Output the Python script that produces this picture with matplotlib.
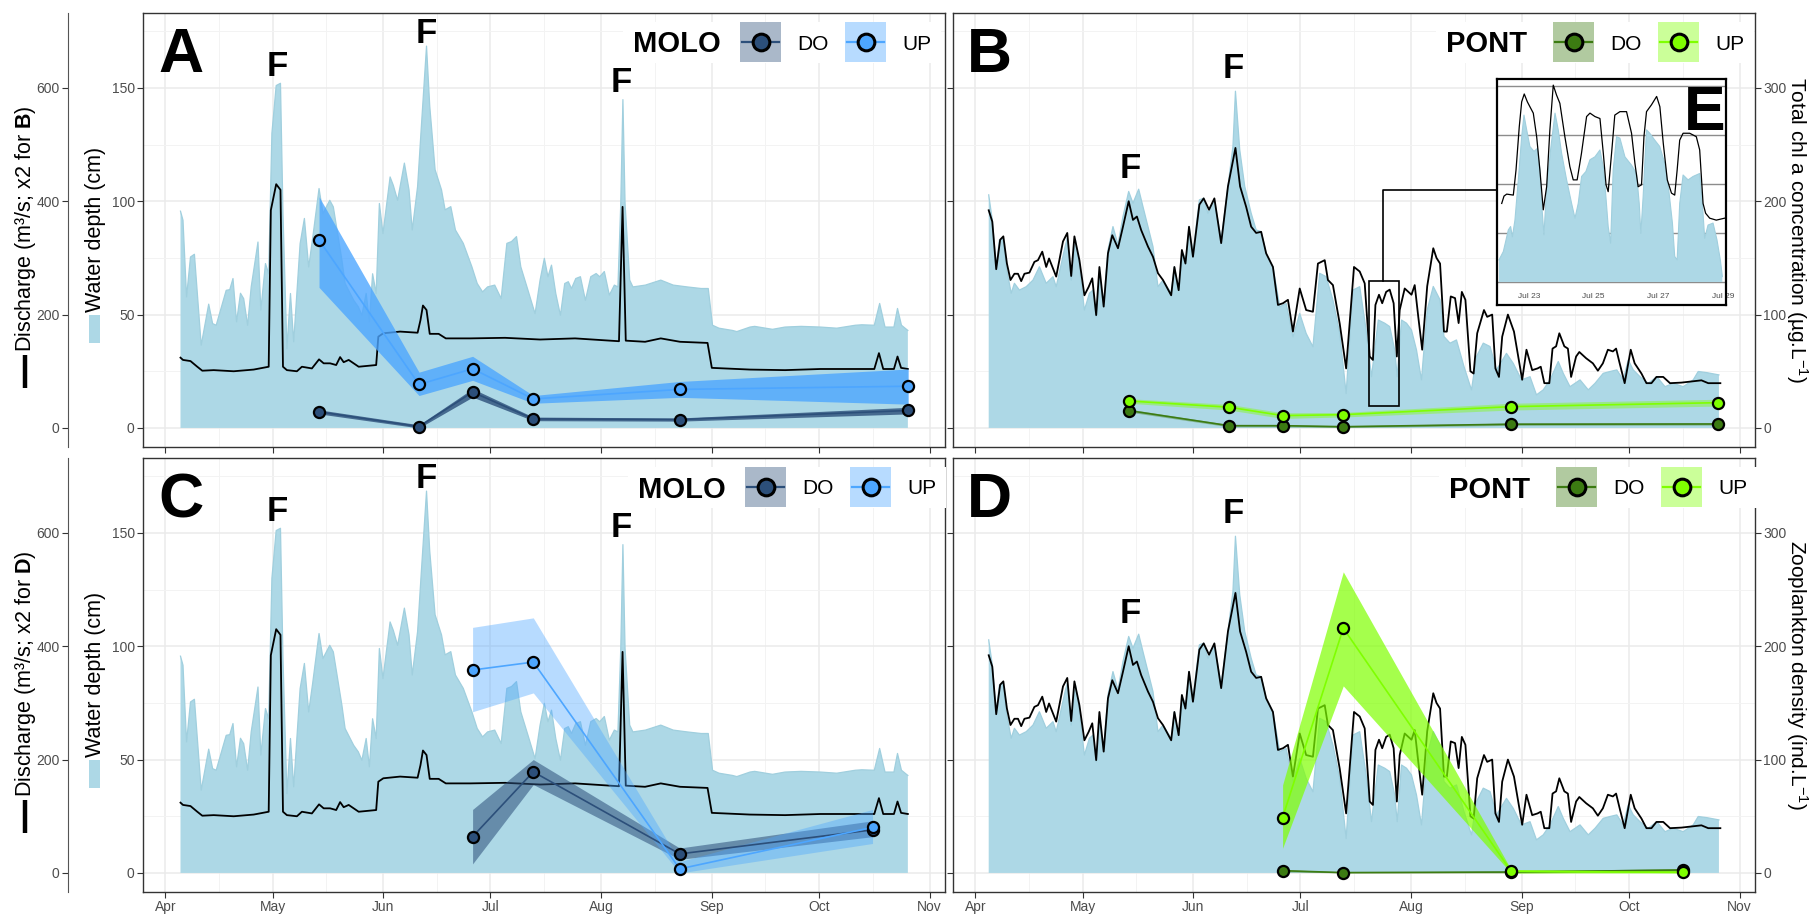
import numpy as np
import matplotlib
matplotlib.use("Agg")
import matplotlib.pyplot as plt
import matplotlib.dates as mdates
from matplotlib.patches import Rectangle
from matplotlib.ticker import MultipleLocator

plt.rcParams['font.family'] = ['Liberation Sans', 'DejaVu Sans']
plt.rcParams['mathtext.fontset'] = 'custom'
plt.rcParams['mathtext.rm'] = 'Liberation Sans'
plt.rcParams['mathtext.it'] = 'Liberation Sans:italic'
plt.rcParams['mathtext.bf'] = 'Liberation Sans:bold'

# ---------------- data (days since 1 April) ----------------
molo_depth_day = [4.2, 4.9, 5.9, 7.0, 8.1, 10.0, 12.1, 13.2, 14.2, 17.0, 18.0, 18.9, 19.9, 21.0, 21.9, 23.0,
                  24.0, 25.9, 26.7, 28.0, 28.9, 29.8, 31.0, 32.2, 32.9, 34.0, 35.0, 35.9, 37.7, 38.9, 40.1,
                  41.2, 43.0, 44.1, 46.0, 47.0, 49.4, 50.3, 52.7, 54.0, 55.0, 56.2, 57.1, 58.0, 59.0, 59.9,
                  60.9, 62.9, 63.8, 65.0, 66.9, 68.2, 69.1, 70.6, 71.6, 73.1, 74.0, 75.5, 77.3, 78.3, 79.9,
                  81.2, 83.4, 85.8, 87.3, 88.8, 90.2, 92.2, 94.0, 95.6, 96.9, 98.3, 99.5, 101.5, 103.5,
                  104.9, 106.1, 107.1, 108.1, 109.3, 110.6, 111.8, 112.8, 113.7, 114.9, 116.2, 117.6, 119.1,
                  120.6, 121.6, 122.9, 124.3, 125.7, 126.7, 127.5, 128.1, 128.7, 130.0, 130.9, 134.4, 138.7,
                  142.2, 146.1, 150.0, 152.0, 153.2, 155.0, 158.8, 160.0, 163.7, 165.0, 170.0, 173.5, 178.0,
                  183.4, 188.0, 193.2, 195.0, 198.5, 200.0, 201.5, 204.0, 205.0, 206.1, 207.9]
molo_depth = [95.6, 91.6, 57.8, 75.4, 76.6, 36.5, 54.6, 46.0, 45.3, 60.7, 61.0, 65.9, 46.8, 59.4, 57.0, 45.3,
              62.2, 82.0, 52.0, 72.5, 68.0, 130.0, 151.0, 152.0, 94.6, 35.0, 59.3, 38.0, 81.3, 92.4, 71.0,
              83.5, 105.6, 94.6, 100.4, 97.5, 74.0, 63.7, 56.3, 53.4, 49.7, 59.3, 46.8, 68.0, 59.3, 99.0,
              85.7, 110.7, 107.0, 100.4, 116.8, 105.0, 87.3, 106.5, 131.6, 168.4, 142.0, 113.9, 105.0, 96.2,
              97.6, 87.3, 81.4, 71.1, 63.7, 60.0, 62.2, 63.0, 57.1, 81.4, 82.2, 84.4, 71.1, 60.8, 50.4,
              65.2, 74.8, 66.7, 71.8, 59.3, 49.7, 63.7, 64.5, 61.5, 65.9, 66.7, 56.3, 66.7, 68.1, 66.7,
              69.0, 58.6, 63.0, 62.2, 99.0, 144.8, 99.0, 65.2, 62.2, 63.0, 65.2, 63.0, 62.2, 61.5, 61.5,
              45.3, 44.0, 43.0, 42.5, 44.5, 44.8, 43.5, 44.5, 44.8, 44.5, 44.0, 45.3, 45.5, 45.3, 54.9,
              44.5, 44.5, 52.7, 45.3, 43.0]

molo_q_day = [4.2, 4.9, 7.0, 8.9, 10.3, 13.5, 19.1, 24.7, 28.9, 29.5, 31.0, 32.2, 32.9, 34.0, 36.8, 38.2,
              41.0, 43.0, 44.3, 46.1, 47.8, 48.9, 49.9, 51.3, 54.1, 59.0, 59.6, 61.0, 65.7, 70.6, 71.4,
              72.1, 73.1, 74.0, 76.5, 78.5, 85.3, 95.1, 104.9, 114.7, 124.5, 127.0, 128.0, 128.9, 134.3,
              138.7, 144.1, 151.8, 153.0, 163.7, 173.5, 183.4, 193.2, 198.5, 199.8, 201.0, 204.0, 205.0,
              206.0, 207.9]
molo_q = [124, 120, 118, 108, 101, 102, 100, 103, 108, 384, 430, 420, 108, 102, 100, 108,
          105, 121, 114, 114, 111, 125, 116, 120, 108, 111, 161, 167, 170, 168, 190,
          216, 208, 166, 166, 158, 158, 159, 156, 158, 154, 153, 390, 154, 152,
          158, 152, 150, 106, 103, 102, 104, 104, 104, 132, 104, 104, 126,
          106, 104]

pont_depth_day = [3.7, 4.7, 5.8, 6.7, 7.7, 8.6, 10.0, 10.9, 12.3, 14.2, 16.1, 17.9, 19.8, 21.7, 22.6, 25.1,
                  25.7, 26.8, 28.0, 29.1, 30.5, 31.9, 32.9, 33.8, 34.7, 35.9, 37.1, 38.5, 39.9, 41.3, 42.9,
                  44.1, 45.7, 46.9, 48.3, 49.7, 51.1, 52.5, 54.8, 55.7, 56.9, 58.1, 59.0, 59.8, 60.9, 62.7,
                  63.9, 65.1, 66.9, 68.8, 70.7, 72.1, 72.8, 74.0, 75.4, 77.2, 78.6, 80.0, 81.4, 83.3, 85.2,
                  87.0, 88.9, 90.8, 92.6, 94.5, 96.4, 98.2, 100.1, 102.0, 103.8, 105.7, 107.6, 109.4, 110.9,
                  112.8, 114.6, 116.0, 117.4, 118.1, 119.3, 120.7, 122.1, 123.5, 124.9, 126.5, 128.2, 130.1,
                  131.2, 132.9, 134.7, 136.8, 138.9, 140.3, 142.2, 144.1, 145.9, 148.7, 150.6, 152.9, 155.3,
                  157.1, 159.0, 160.9, 163.2, 164.6, 166.5, 169.3, 171.6, 173.5, 175.8, 177.7, 179.6, 181.4,
                  182.8, 184.2, 186.1, 188.4, 190.8, 193.1, 195.4, 198.2, 201.0, 202.4, 204.8, 208.2]
pont_depth = [102.8, 91.8, 71.1, 82.9, 83.7, 71.1, 59.4, 63.8, 60.8, 62.3, 65.2, 71.1, 63.8, 66.7, 62.3, 80.0,
              83.7, 65.2, 82.9, 71.1, 52.0, 59.4, 60.8, 49.0, 66.7, 54.9, 78.5, 88.8, 80.8, 93.2, 104.3,
              99.1, 105.3, 97.6, 88.8, 80.0, 62.3, 65.2, 59.4, 71.1, 60.8, 77.0, 74.1, 88.8, 77.0, 100.6,
              101.3, 94.7, 100.6, 82.9, 106.5, 124.2, 148.5, 122.7, 106.5, 94.7, 87.3, 86.6, 77.0, 71.1, 53.5,
              54.9, 40.2, 50.5, 41.7, 35.8, 68.2, 66.7, 56.4, 41.7, 15.2, 60.8, 62.3, 43.2, 22.6,
              47.6, 46.2, 44.7, 34.4, 22.6, 47.6, 46.2, 43.2, 34.4, 21.2, 52.0, 62.4, 56.5,
              40.3, 37.4, 38.8, 27.1, 16.8, 31.5, 37.4, 35.9, 25.6, 32.9, 28.5, 21.2, 22.6,
              14.6, 16.8, 21.2, 29.3, 24.1, 18.2, 21.2, 16.8, 19.7, 24.1, 24.9, 25.6, 21.2,
              30.0, 25.6, 22.6, 19.7, 22.6, 18.2, 19.7, 18.2, 21.2, 24.9, 24.4, 23.4]

pont_q_day = [3.7, 4.7, 5.8, 6.9, 7.8, 8.8, 9.8, 10.9, 11.9, 12.8, 13.7, 15.1, 16.5, 17.5, 18.7, 19.8, 20.6,
              22.6, 24.5, 25.7, 26.8, 27.7, 29.1, 30.5, 31.7, 32.7, 33.8, 34.7, 35.9, 37.1, 38.3, 39.9,
              41.3, 42.9, 44.1, 45.2, 46.4, 48.3, 49.7, 51.1, 52.5, 54.8, 55.7, 56.9, 57.8, 58.8, 59.8,
              60.9, 62.7, 63.9, 65.4, 66.9, 68.8, 70.7, 72.8, 74.1, 75.8, 77.2, 78.6, 80.0, 81.4, 83.3,
              84.7, 86.1, 87.5, 88.9, 90.8, 92.6, 94.5, 95.9, 97.8, 98.7, 100.1, 102.0, 103.8, 106.0,
              107.6, 109.0, 110.4, 111.3, 112.0, 113.0, 113.9, 115.0, 116.0, 117.1, 118.0, 118.8, 120.2,
              122.1, 123.0, 124.0, 125.1, 126.5, 128.2, 129.1, 130.1, 131.2, 132.0, 133.1, 134.3, 135.3,
              136.2, 137.2, 138.6, 139.5, 140.5, 142.4, 143.3, 144.7, 145.6, 146.6, 147.5, 149.1, 150.8,
              153.1, 154.3, 155.9, 157.4, 158.3, 159.3, 160.7, 161.6, 162.6, 163.5, 164.9, 165.9, 166.8,
              168.2, 169.1, 171.0, 172.9, 174.3, 175.7, 177.1, 178.5, 179.4, 180.4, 181.8, 183.5, 184.6,
              186.5, 187.9, 189.3, 190.7, 192.6, 194.5, 197.7, 200.5, 203.3, 205.2, 208.6]
pont_q = [384, 364, 280, 332, 338, 290, 261, 272, 272, 259, 272, 274, 293, 296, 311, 284, 299,
          267, 329, 344, 268, 338, 296, 234, 249, 264, 199, 284, 214, 308, 340, 317,
          355, 400, 367, 373, 349, 320, 302, 273, 261, 234, 284, 243, 314, 290, 355,
          302, 394, 405, 385, 405, 326, 426, 494, 426, 390, 355, 344, 346, 308, 284,
          217, 220, 226, 170, 246, 208, 205, 290, 296, 261, 252, 184, 105, 284,
          276, 255, 126, 120, 217, 235, 220, 240, 244, 220, 126, 208, 246,
          235, 252, 196, 138, 250, 317, 300, 290, 170, 170, 232, 229, 185,
          240, 226, 100, 96, 167, 208, 196, 200, 105, 90, 161, 200, 170,
          85, 138, 102, 105, 108, 79, 79, 140, 144, 167, 144, 140, 90,
          126, 134, 123, 114, 101, 114, 138, 135, 140, 114, 79, 138, 114,
          96, 79, 79, 90, 90, 79, 80, 82, 84, 79, 79]

# inset E: hours since 22 July
inset_depth_hr = [1.8, 5.0, 8.7, 10.4, 11.7, 13.6, 16.1, 18.6, 20.3, 22.3, 24.7, 27.7, 30.2, 32.1, 33.4, 35.1,
                  37.1, 40.0, 43.3, 45.7, 48.2, 51.9, 55.6, 58.1, 60.5, 63.0, 66.2, 69.2, 72.9, 76.6, 79.5,
                  82.7, 84.5, 86.4, 88.9, 91.4, 95.1, 100.0, 103.7, 105.7, 106.9, 108.6, 111.1, 113.5, 117.2,
                  120.9, 124.6, 127.6, 130.3, 132.0, 133.8, 135.7, 138.2, 141.9, 145.6, 150.5, 152.5, 154.2,
                  156.7, 160.4, 163.3, 165.8, 167.3]
inset_depth = [0.45, 0.62, 1.06, 1.13, 0.92, 1.26, 2.08, 2.96, 3.40, 3.10, 2.76, 2.66, 2.72, 2.28, 1.60, 0.96,
               1.94, 2.69, 3.44, 3.10, 2.62, 2.08, 1.60, 1.30, 1.60, 2.15, 2.25, 2.49, 2.55, 2.69, 2.28,
               1.13, 0.79, 2.28, 2.96, 2.93, 2.55, 2.38, 2.21, 1.60, 0.99, 1.74, 3.10, 3.03, 2.89,
               2.76, 2.42, 1.87, 1.20, 0.52, 0.45, 1.60, 2.18, 2.08, 2.15, 2.21, 1.60, 0.89,
               1.16, 1.20, 0.86, 0.45, 0.11]
inset_q_hr = [3.8, 5.5, 7.5, 12.4, 14.4, 16.8, 18.6, 20.5, 22.8, 24.7, 27.2, 29.7, 32.1, 34.6, 37.1, 39.5,
              42.0, 44.4, 46.9, 50.6, 54.3, 56.8, 59.7, 62.9, 66.7, 69.2, 72.9, 76.6, 79.1, 81.1, 82.7,
              85.2, 87.6, 91.4, 96.3, 100.0, 102.5, 104.9, 107.4, 109.2, 111.1, 114.8, 118.6, 121.0, 123.5,
              126.5, 129.6, 132.0, 133.8, 135.7, 138.2, 143.1, 148.0, 150.5, 153.0, 154.9, 157.9, 162.8,
              169.0]
inset_q = [1.60, 1.75, 1.79, 1.77, 2.28, 3.16, 3.67, 3.83, 3.67, 3.57, 3.44, 2.96, 2.28, 1.47, 1.94, 3.10,
           4.01, 3.81, 3.64, 2.96, 2.35, 2.08, 2.08, 2.62, 3.37, 3.44, 3.37, 3.33, 2.62, 1.98, 1.84,
           2.62, 3.40, 3.47, 3.47, 3.03, 2.42, 1.94, 1.98, 2.96, 3.47, 3.61, 3.78, 3.57, 2.83,
           2.08, 1.81, 1.77, 2.28, 2.89, 3.03, 3.03, 2.96, 2.69, 1.60, 1.40, 1.30, 1.26,
           1.30]

# samples (A, C: plotted on water-depth scale; B: chl a; D: zooplankton)
a_day = [43, 71, 86, 103, 144, 208]
a_do = [7.1, 0.6, 15.8, 4.0, 3.7, 7.7]
a_do_lo = [6.2, 0.0, 13.6, 3.2, 3.0, 6.2]
a_do_hi = [8.0, 1.4, 17.3, 4.8, 4.4, 9.1]
a_up = [82.9, 19.2, 26.1, 12.8, 17.0, 18.4]
a_up_lo = [62.0, 14.3, 21.0, 10.9, 13.5, 10.5]
a_up_hi = [102.0, 24.6, 31.6, 14.3, 20.5, 26.0]

c_day = [86, 103, 144, 198]
c_do = [16.0, 44.6, 8.4, 19.0]
c_do_lo = [4.0, 39.0, 6.0, 16.0]
c_do_hi = [28.0, 50.0, 11.0, 23.0]
c_up = [89.5, 93.0, 1.8, 20.1]
c_up_lo = [71.1, 79.4, 0.0, 13.0]
c_up_hi = [108.3, 112.5, 5.0, 28.0]

b_day = [43, 71, 86, 103, 150, 208]
b_do = [15.3, 2.0, 2.0, 1.1, 3.3, 3.5]
b_do_lo = [14.0, 1.0, 1.0, 0.3, 2.3, 2.5]
b_do_hi = [16.6, 3.0, 3.0, 1.9, 4.3, 4.5]
b_up = [23.8, 18.3, 10.9, 11.7, 18.8, 22.3]
b_up_lo = [21.8, 15.8, 8.4, 9.7, 15.8, 19.3]
b_up_hi = [25.8, 20.8, 13.4, 13.7, 21.8, 25.3]

d_day = [86, 103, 150, 198]
d_do = [2.0, 0.3, 0.8, 2.6]
d_do_lo = [1.0, 0.0, 0.0, 1.2]
d_do_hi = [3.0, 1.0, 1.6, 4.0]
d_up = [48.8, 215.9, 1.5, 0.5]
d_up_lo = [21.8, 165.0, 0.0, 0.0]
d_up_hi = [77.6, 265.6, 3.0, 2.0]

Q_SCALE = 4      # discharge axis = 4 x water depth axis
S_SCALE = 2      # right axis = 2 x water depth axis

START = np.datetime64('2019-04-01T00:00')
INSET_START = np.datetime64('2019-07-22T00:00')


def dates(vals, origin=START, minutes=1440):
    return origin + np.round(np.asarray(vals, float) * minutes).astype('timedelta64[m]')


def dnum(day):
    return mdates.date2num(dates([day]))[0]


W, H = 1812, 916
fig = plt.figure(figsize=(W / 100, H / 100), dpi=100)


def frac(l, t, r, b):
    return [l / W, 1 - b / H, (r - l) / W, (b - t) / H]


GRAY = '#4D4D4D'
DARK = '#333333'
FILL = '#ADD8E6'
MOLO_DO, MOLO_UP = '#2C4F7A', '#4DA6FF'
PONT_DO, PONT_UP = '#3C7B12', '#7FFF00'


def panel(rect, depth_day, depth, q_day, q, xlabels, leftlabels):
    ax = fig.add_axes(rect)
    d = dates(depth_day)
    ax.fill_between(d, 0, depth, facecolor=FILL, lw=0, zorder=2)
    ax.plot(d, depth, color='#A0CFDE', lw=0.9, zorder=2)
    ax.plot(dates(q_day), np.asarray(q) / Q_SCALE, color='black', lw=1.3, zorder=3)
    ax.set_xlim(dates([-6.3, 218.3]))
    ax.set_ylim(-8.4, 183)
    ax.xaxis.set_major_locator(mdates.MonthLocator())
    ax.xaxis.set_minor_locator(mdates.MonthLocator(bymonthday=16))
    ax.xaxis.set_major_formatter(mdates.DateFormatter('%b'))
    ax.yaxis.set_major_locator(MultipleLocator(50))
    ax.yaxis.set_minor_locator(MultipleLocator(25))
    ax.grid(True, which='minor', color='#F3F3F3', lw=0.7)
    ax.grid(True, which='major', color='#EBEBEB', lw=1.1)
    ax.set_axisbelow(True)
    ax.tick_params(which='major', length=4, width=0.8, color=DARK, labelsize=10,
                   labelcolor=GRAY, pad=2)
    ax.tick_params(which='minor', length=0)
    ax.tick_params(axis='x', labelbottom=xlabels)
    ax.tick_params(axis='y', labelleft=leftlabels)
    for s in ax.spines.values():
        s.set_color(DARK)
        s.set_linewidth(1.0)
    return ax


def samples(ax, day, val, lo, hi, color, alpha, scale=1.0):
    d = dates(day)
    ax.fill_between(d, np.asarray(lo) / scale, np.asarray(hi) / scale, color=color,
                    alpha=alpha, lw=0, zorder=4)
    ax.plot(d, np.asarray(val) / scale, color=color, lw=1.2, zorder=5)
    ax.plot(d, np.asarray(val) / scale, 'o', ms=8, mfc=color, mec='black', mew=1.6, zorder=6)


def discharge_axis(ax):
    axq = ax.twinx()
    axq.set_ylim(-8.4 * Q_SCALE, 183 * Q_SCALE)
    axq.yaxis.tick_left()
    for k in ('right', 'top', 'bottom'):
        axq.spines[k].set_visible(False)
    axq.spines['left'].set_visible(True)
    axq.spines['left'].set_position(('axes', -75 / 802))
    axq.spines['left'].set_color('#555555')
    axq.set_yticks([0, 200, 400, 600])
    axq.tick_params(length=4, width=0.8, color=DARK, labelsize=10, labelcolor=GRAY, pad=2)


def right_axis(ax):
    axr = ax.twinx()
    axr.set_ylim(-8.4 * S_SCALE, 183 * S_SCALE)
    axr.set_yticks([0, 100, 200, 300])
    for s in axr.spines.values():
        s.set_visible(False)
    axr.tick_params(length=4, width=0.8, color=DARK, labelsize=10, labelcolor=GRAY, pad=2)


def flabels(ax, pts):
    for day, y in pts:
        ax.text(dnum(day), y, 'F', ha='center', va='baseline', fontsize=25,
                fontweight='bold', zorder=7)


# A
axA = panel(frac(143, 13, 945, 447), molo_depth_day, molo_depth, molo_q_day, molo_q, False, True)
samples(axA, a_day, a_do, a_do_lo, a_do_hi, MOLO_DO, 0.8)
samples(axA, a_day, a_up, a_up_lo, a_up_hi, MOLO_UP, 0.8)
flabels(axA, [(31.3, 155.3), (73.1, 169.8), (127.7, 148.3)])
discharge_axis(axA)

# B
axB = panel(frac(953, 13, 1755, 447), pont_depth_day, pont_depth, pont_q_day, pont_q, False, False)
samples(axB, b_day, b_do, b_do_lo, b_do_hi, PONT_DO, 0.4, S_SCALE)
samples(axB, b_day, b_up, b_up_lo, b_up_hi, PONT_UP, 0.4, S_SCALE)
flabels(axB, [(43.3, 110.1), (72.1, 154.2)])
axB.add_patch(Rectangle((dnum(110.2), 9.7), 8.3, 55.1, fill=False, ec='black', lw=1.2, zorder=8))
right_axis(axB)

# C
axC = panel(frac(143, 458, 945, 892), molo_depth_day, molo_depth, molo_q_day, molo_q, True, True)
samples(axC, c_day, c_do, c_do_lo, c_do_hi, MOLO_DO, 0.55)
samples(axC, c_day, c_up, c_up_lo, c_up_hi, MOLO_UP, 0.4)
flabels(axC, [(31.3, 155.3), (73.1, 169.8), (127.7, 148.3)])
discharge_axis(axC)

# D
axD = panel(frac(953, 458, 1755, 892), pont_depth_day, pont_depth, pont_q_day, pont_q, True, False)
samples(axD, d_day, d_do, d_do_lo, d_do_hi, PONT_DO, 0.5, S_SCALE)
samples(axD, d_day, d_up, d_up_lo, d_up_hi, PONT_UP, 0.7, S_SCALE)
flabels(axD, [(43.3, 110.1), (72.1, 154.2)])
right_axis(axD)

# inset E
axE = fig.add_axes(frac(1497.3, 79.3, 1726, 305))
axE.set_facecolor('white')
di = dates(inset_depth_hr, INSET_START, 60)
axE.fill_between(di, 0, inset_depth, facecolor=FILL, lw=0, zorder=2)
axE.plot(di, inset_depth, color='#A0CFDE', lw=0.8, zorder=2)
axE.plot(dates(inset_q_hr, INSET_START, 60), inset_q, color='black', lw=0.9, zorder=3)
axE.set_xlim(dates([0.53, 170.0], INSET_START, 60))
axE.set_ylim(-0.469, 4.129)
axE.set_yticks([0, 1, 2, 3, 4])
axE.yaxis.grid(True, color='#8C8C8C', lw=1.0)
axE.set_axisbelow(True)
axE.tick_params(axis='y', length=0, labelleft=False)
axE.xaxis.set_major_locator(mdates.DayLocator(bymonthday=[23, 25, 27, 29]))
axE.xaxis.set_major_formatter(mdates.DateFormatter('%b %d'))
axE.tick_params(axis='x', length=0, pad=-8.5, labelsize=6, labelcolor=GRAY)
for s in axE.spines.values():
    s.set_color('black')
    s.set_linewidth(1.6)

# ---------------- overlay: labels, legends, connector ----------------
ov = fig.add_axes([0, 0, 1, 1])
ov.set_xlim(0, W)
ov.set_ylim(H, 0)
ov.axis('off')

for dy, letter in ((0, 'A'), (445, 'C')):
    ov.text(158, 72 + dy, letter, fontsize=45, fontweight='bold', va='baseline')
for dy, letter in ((0, 'B'), (445, 'D')):
    ov.text(967, 72 + dy, letter, fontsize=45, fontweight='bold', va='baseline')
ov.text(1684, 130, 'E', fontsize=45, fontweight='bold', va='baseline')

# connector from zoom box to inset
ov.plot([1383.3, 1383.3, 1497.3], [281, 190, 190], color='black', lw=1.2)

# left axis titles
for dy, which in ((0, 'B'), (445, 'D')):
    ov.plot([25, 25], [355 + dy, 388 + dy], color='black', lw=3.2, solid_capstyle='butt')
    ov.text(26, 352 + dy, 'Discharge (m³/s; x2 for $\\mathbf{%s}$)' % which, rotation=90,
            ha='center', va='bottom', fontsize=15.5)
    ov.add_patch(Rectangle((89, 315 + dy), 11, 28, facecolor=FILL, lw=0))
    ov.text(96, 312 + dy, 'Water depth (cm)', rotation=90, ha='center', va='bottom', fontsize=15.5)

# right axis titles
ov.text(1797, 230, 'Total chl a concentration (µg.L$^{-1}$)', rotation=270, ha='center',
        va='center', fontsize=15)
ov.text(1797, 675, 'Zooplankton density (ind.L$^{-1}$)', rotation=270, ha='center',
        va='center', fontsize=15)


def legend(x0, y, title, c_do, c_up):
    ov.add_patch(Rectangle((x0 - 10, y - 20), 318, 41, facecolor='white', lw=0, zorder=1))
    ov.text(x0, y + 10.5, title, fontsize=21, fontweight='bold', va='baseline', zorder=2)
    for kx, label, c in ((x0 + 107, 'DO', c_do), (x0 + 212, 'UP', c_up)):
        ov.add_patch(Rectangle((kx, y - 20), 41, 40, facecolor=c, alpha=0.4, lw=0, zorder=2))
        ov.plot([kx + 2, kx + 39], [y, y], color=c, lw=1.6, zorder=3)
        ov.plot(kx + 20.5, y, 'o', ms=12, mfc=c, mec='black', mew=2.2, zorder=4)
        ov.text(kx + 57, y + 7.5, label, fontsize=15, va='baseline', zorder=4)


legend(633, 42, 'MOLO', MOLO_DO, MOLO_UP)
legend(1446, 42, 'PONT', PONT_DO, PONT_UP)
legend(638, 487, 'MOLO', MOLO_DO, MOLO_UP)
legend(1449, 487, 'PONT', PONT_DO, PONT_UP)

fig.savefig('out.png', dpi=100)
